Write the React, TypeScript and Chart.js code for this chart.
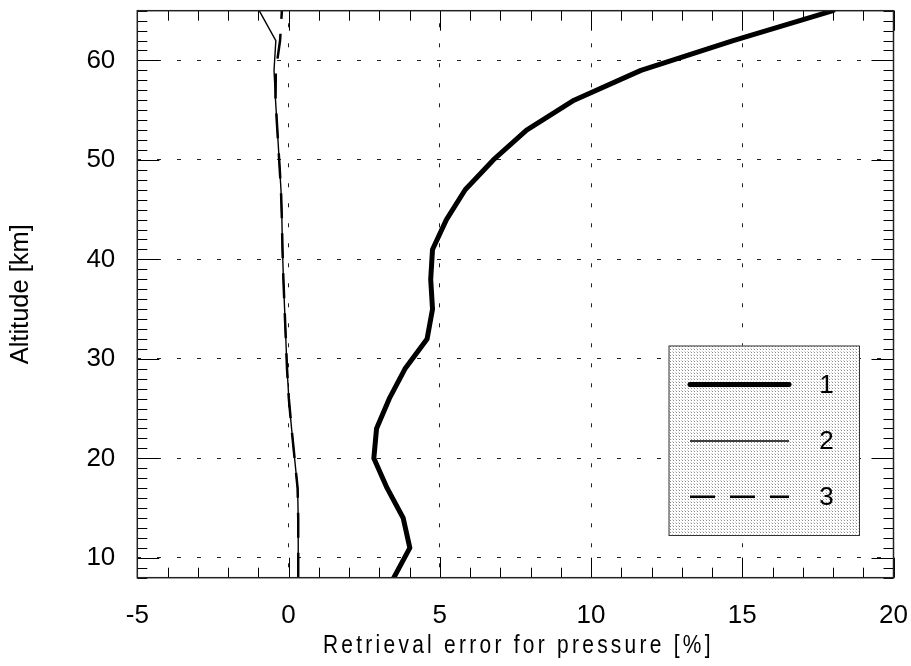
import { useEffect, useRef } from 'react';
import { Chart, registerables } from 'chart.js';

Chart.register(...registerables);

// Altitude levels [km]
const altitudes = [8, 11, 14, 17, 20, 23, 26, 29, 32, 35, 38, 41, 44, 47, 50, 53, 56, 59, 62, 65];
// Curve 1 (thick solid)
const series1 = [3.48, 4.01, 3.79, 3.26, 2.82, 2.91, 3.33, 3.85, 4.58, 4.76, 4.7, 4.76, 5.22, 5.84, 6.77, 7.87, 9.44, 11.65, 14.7, 18.0];
// Curve 2 (thin solid)
const series2 = [0.32, 0.32, 0.32, 0.3, 0.2, 0.1, 0.01, -0.05, -0.09, -0.13, -0.17, -0.2, -0.22, -0.25, -0.31, -0.37, -0.43, -0.48, -0.42, -0.97];
// Curve 3 (dashed)
const series3 = [0.32, 0.32, 0.32, 0.3, 0.2, 0.1, 0.01, -0.05, -0.09, -0.13, -0.17, -0.2, -0.22, -0.25, -0.31, -0.37, -0.43, -0.42, -0.28, -0.22];

const legendLabels = ['1', '2', '3'];
const xTickValues = [-5, 0, 5, 10, 15, 20];
const yTickValues = [10, 20, 30, 40, 50, 60];
const xTitle = 'Retrieval error for pressure [%]';
const yTitle = 'Altitude [km]';

const FONT = '"Liberation Sans", Arial, Helvetica, sans-serif';

function makePattern(): CanvasPattern | string {
  const c = document.createElement('canvas');
  c.width = 3;
  c.height = 3;
  const g = c.getContext('2d');
  if (!g) return '#e6e6e6';
  g.fillStyle = '#ffffff';
  g.fillRect(0, 0, 3, 3);
  g.fillStyle = '#8a8a8a';
  g.fillRect(1, 1, 1, 1);
  g.fillStyle = '#d0d0d0';
  g.fillRect(0, 0, 1, 1);
  const p = g.createPattern(c, 'repeat');
  return p || '#e6e6e6';
}

const decorPlugin = {
  id: 'decor',
  beforeDraw(chart: any) {
    const { ctx, width, height } = chart;
    ctx.save();
    ctx.fillStyle = '#ffffff';
    ctx.fillRect(0, 0, width, height);
    ctx.restore();
  },
  afterDatasetsDraw(chart: any) {
    const { ctx, chartArea: ca } = chart;
    const xs = chart.scales.x;
    const ys = chart.scales.y;

    // inward ticks on all four sides
    ctx.save();
    ctx.strokeStyle = '#000';
    ctx.lineWidth = 1;
    ctx.beginPath();
    for (let v = Math.ceil(xs.min); v <= xs.max; v++) {
      const px = Math.round(xs.getPixelForValue(v)) + 0.5;
      const len = xTickValues.includes(v) ? 20 : 10;
      ctx.moveTo(px, ca.bottom);
      ctx.lineTo(px, ca.bottom - len);
      ctx.moveTo(px, ca.top);
      ctx.lineTo(px, ca.top + len);
    }
    for (let v = Math.ceil(ys.min); v <= ys.max; v++) {
      const py = Math.round(ys.getPixelForValue(v)) + 0.5;
      const len = yTickValues.includes(v) ? 22 : 10;
      ctx.moveTo(ca.left, py);
      ctx.lineTo(ca.left + len, py);
      ctx.moveTo(ca.right, py);
      ctx.lineTo(ca.right - len, py);
    }
    ctx.stroke();

    // frame
    ctx.lineWidth = 1.5;
    ctx.strokeStyle = '#222';
    ctx.strokeRect(ca.left, ca.top, ca.right - ca.left, ca.bottom - ca.top);
    ctx.restore();

    // legend box
    const bx = ca.right - 225;
    const by = ca.bottom - 232.2;
    const bw = 190.5;
    const bh = 189.5;
    ctx.save();
    ctx.fillStyle = makePattern();
    ctx.fillRect(bx, by, bw, bh);
    ctx.strokeStyle = '#333';
    ctx.lineWidth = 1;
    ctx.strokeRect(bx + 0.5, by + 0.5, bw, bh);
    const rowY = [39, 95.5, 151.2];
    chart.data.datasets.forEach((ds: any, i: number) => {
      const y = by + rowY[i];
      ctx.save();
      ctx.strokeStyle = ds.borderColor;
      ctx.lineWidth = ds.borderWidth;
      ctx.lineCap = ds.borderCapStyle || 'butt';
      ctx.setLineDash(ds.borderDash || []);
      ctx.beginPath();
      ctx.moveTo(bx + 21.5, y);
      ctx.lineTo(bx + 120.5, y);
      ctx.stroke();
      ctx.restore();
      ctx.fillStyle = '#000';
      ctx.font = `26px ${FONT}`;
      ctx.textAlign = 'center';
      ctx.textBaseline = 'middle';
      ctx.fillText(legendLabels[i], bx + 158, y + 1);
    });
    ctx.restore();

    // x axis title (letter-spaced, condensed)
    ctx.save();
    ctx.fillStyle = '#000';
    ctx.font = `25.5px ${FONT}`;
    (ctx as any).letterSpacing = '4px';
    ctx.textAlign = 'center';
    ctx.textBaseline = 'middle';
    ctx.translate((xs.left + xs.right) / 2 + 3, xs.bottom - 20.5);
    ctx.scale(0.82, 1);
    ctx.fillText(xTitle, 0, 0);
    ctx.restore();
  },
};

export default function App() {
  const canvasRef = useRef<HTMLCanvasElement | null>(null);

  useEffect(() => {
    const canvas = canvasRef.current;
    if (!canvas) return;
    const mk = (vals: number[]) => vals.map((v, i) => ({ x: v, y: altitudes[i] }));
    const chart = new Chart(canvas, {
      type: 'line',
      data: {
        datasets: [
          {
            label: legendLabels[0],
            data: mk(series1),
            borderColor: '#000',
            borderWidth: 5,
            borderCapStyle: 'round',
            borderJoinStyle: 'round',
            pointRadius: 0,
            tension: 0,
            fill: false,
          },
          {
            label: legendLabels[1],
            data: mk(series2),
            borderColor: '#000',
            borderWidth: 1.4,
            pointRadius: 0,
            tension: 0,
            fill: false,
          },
          {
            label: legendLabels[2],
            data: mk(series3),
            borderColor: '#000',
            borderWidth: 2.5,
            borderDash: [25, 15],
            pointRadius: 0,
            tension: 0,
            fill: false,
          },
        ],
      },
      options: {
        animation: false,
        responsive: true,
        maintainAspectRatio: false,
        events: [],
        layout: { padding: { left: 0, top: 10.7, right: 17.5, bottom: 0 } },
        plugins: {
          legend: { display: false },
          tooltip: { enabled: false },
          title: { display: false },
        },
        scales: {
          x: {
            type: 'linear',
            position: 'bottom',
            min: -5,
            max: 20,
            afterBuildTicks: (scale: any) => {
              scale.ticks = xTickValues.map((v) => ({ value: v }));
            },
            afterFit: (scale: any) => {
              scale.height = 88.3;
              scale.paddingLeft = 0;
              scale.paddingRight = 0;
            },
            ticks: {
              color: '#000',
              font: { family: FONT, size: 26 },
              padding: 23,
              maxRotation: 0,
              autoSkip: false,
            },
            grid: {
              display: true,
              drawTicks: false,
              color: '#222',
              lineWidth: 1,
            },
            border: { display: false, dash: [4, 16], dashOffset: 7.4 },
            title: { display: false },
          },
          y: {
            type: 'linear',
            position: 'left',
            min: 8,
            max: 65,
            afterBuildTicks: (scale: any) => {
              scale.ticks = yTickValues.map((v) => ({ value: v }));
            },
            afterFit: (scale: any) => {
              scale.width = 137.3;
              scale.paddingTop = 0;
              scale.paddingBottom = 0;
            },
            ticks: {
              color: '#000',
              font: { family: FONT, size: 26 },
              padding: 22,
              autoSkip: false,
            },
            grid: {
              display: true,
              drawTicks: false,
              color: '#222',
              lineWidth: 1,
            },
            border: { display: false, dash: [4, 16], dashOffset: 0 },
            title: {
              display: true,
              text: yTitle,
              color: '#000',
              font: { family: FONT, size: 25.5 },
              padding: { top: 5.5, bottom: 0 },
            },
          },
        },
      },
      plugins: [decorPlugin],
    } as any);
    return () => {
      chart.destroy();
    };
  }, []);

  return (
    <div style={{ position: 'fixed', left: 0, top: 0, width: 911, height: 666 }}>
      <canvas ref={canvasRef} />
    </div>
  );
}
